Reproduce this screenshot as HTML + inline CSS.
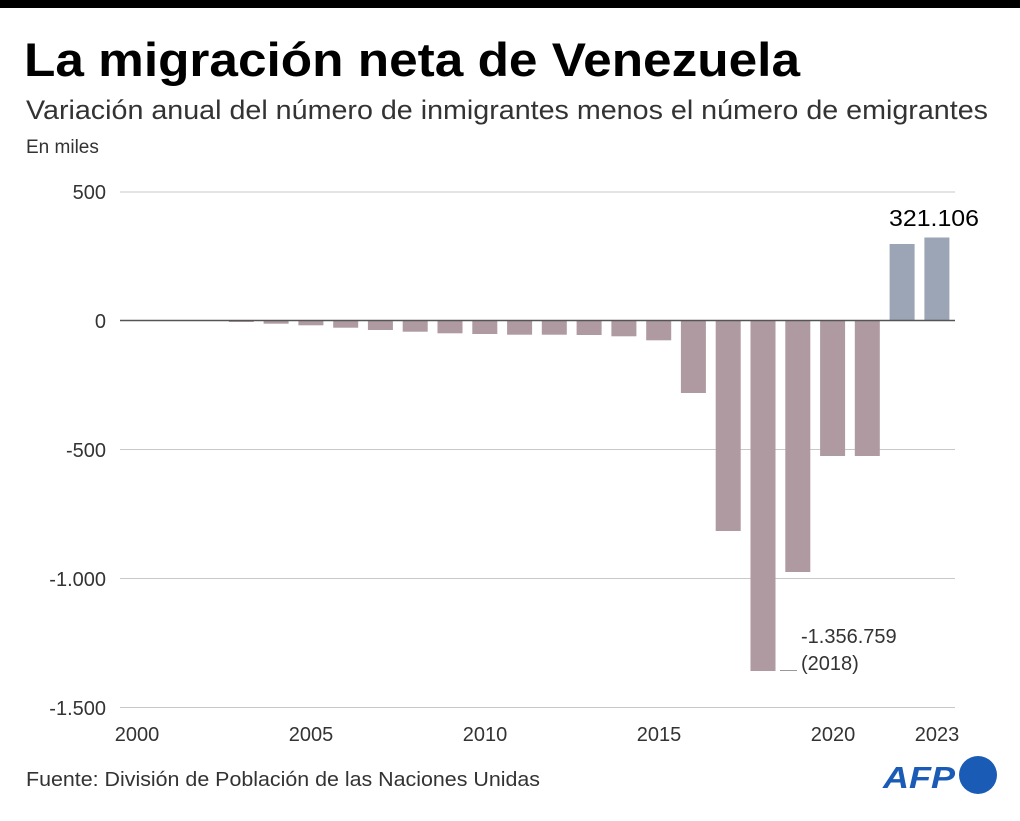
<!DOCTYPE html>
<html><head><meta charset="utf-8"><style>
body{margin:0;width:1020px;height:816px;background:#fff;overflow:hidden;font-family:"Liberation Sans",sans-serif}
</style></head><body>
<svg width="1020" height="816" xmlns="http://www.w3.org/2000/svg" font-family="Liberation Sans, sans-serif">
<rect x="0" y="0" width="1020" height="8" fill="#000"/>
<text x="24" y="76" font-size="47" font-weight="bold" fill="#000" textLength="776" lengthAdjust="spacingAndGlyphs">La migración neta de Venezuela</text>
<text x="26" y="119" font-size="27" fill="#333" textLength="962" lengthAdjust="spacingAndGlyphs">Variación anual del número de inmigrantes menos el número de emigrantes</text>
<text x="26" y="153" font-size="19" fill="#333">En miles</text>
<g stroke="#c8c8c8" stroke-width="1">
<line x1="120" y1="192" x2="955" y2="192"/>
<line x1="120" y1="449.5" x2="955" y2="449.5"/>
<line x1="120" y1="578.5" x2="955" y2="578.5"/>
<line x1="120" y1="707.5" x2="955" y2="707.5"/>
</g>
<g font-size="20" fill="#333" text-anchor="end">
<text x="106" y="199">500</text>
<text x="106" y="328">0</text>
<text x="106" y="457">-500</text>
<text x="106" y="586">-1.000</text>
<text x="106" y="715">-1.500</text>
</g>
<g fill="#ae9aa0">
<rect x="124.5" y="320" width="25" height="0.5"/>
<rect x="159.3" y="320" width="25" height="0.8"/>
<rect x="194.1" y="320" width="25" height="1"/>
<rect x="228.8" y="320" width="25" height="2"/>
<rect x="263.6" y="320" width="25" height="3.7"/>
<rect x="298.4" y="320" width="25" height="5.3"/>
<rect x="333.2" y="320" width="25" height="7.7"/>
<rect x="367.9" y="320" width="25" height="10"/>
<rect x="402.7" y="320" width="25" height="11.7"/>
<rect x="437.5" y="320" width="25" height="13.3"/>
<rect x="472.3" y="320" width="25" height="14"/>
<rect x="507.1" y="320" width="25" height="14.7"/>
<rect x="541.8" y="320" width="25" height="14.7"/>
<rect x="576.6" y="320" width="25" height="15"/>
<rect x="611.4" y="320" width="25" height="16.3"/>
<rect x="646.2" y="320" width="25" height="20.3"/>
<rect x="680.9" y="320" width="25" height="73"/>
<rect x="715.7" y="320" width="25" height="211"/>
<rect x="750.5" y="320" width="25" height="351"/>
<rect x="785.3" y="320" width="25" height="252"/>
<rect x="820.1" y="320" width="25" height="136"/>
<rect x="854.8" y="320" width="25" height="136"/>
</g>
<g fill="#9ba5b5">
<rect x="889.6" y="244" width="25" height="76"/>
<rect x="924.4" y="237.5" width="25" height="82.5"/>
</g>
<line x1="120" y1="320.5" x2="955" y2="320.5" stroke="#555" stroke-width="1.5"/>
<text x="889" y="226" font-size="23" fill="#000" textLength="90" lengthAdjust="spacingAndGlyphs">321.106</text>
<line x1="780" y1="670.5" x2="797" y2="670.5" stroke="#999" stroke-width="1"/>
<text x="801" y="643" font-size="20" fill="#333">-1.356.759</text>
<text x="801" y="670" font-size="20" fill="#333">(2018)</text>
<g font-size="20" fill="#333" text-anchor="middle">
<text x="137" y="741">2000</text>
<text x="311" y="741">2005</text>
<text x="485" y="741">2010</text>
<text x="659" y="741">2015</text>
<text x="833" y="741">2020</text>
<text x="937" y="741">2023</text>
</g>
<text x="26" y="786" font-size="20" fill="#333" textLength="514" lengthAdjust="spacingAndGlyphs">Fuente: División de Población de las Naciones Unidas</text>
<text x="883" y="788" font-size="31" font-weight="bold" font-style="italic" fill="#1a5bb5" textLength="72" lengthAdjust="spacingAndGlyphs">AFP</text>
<circle cx="978" cy="775" r="19" fill="#1a5bb5"/>
</svg>
</body></html>
